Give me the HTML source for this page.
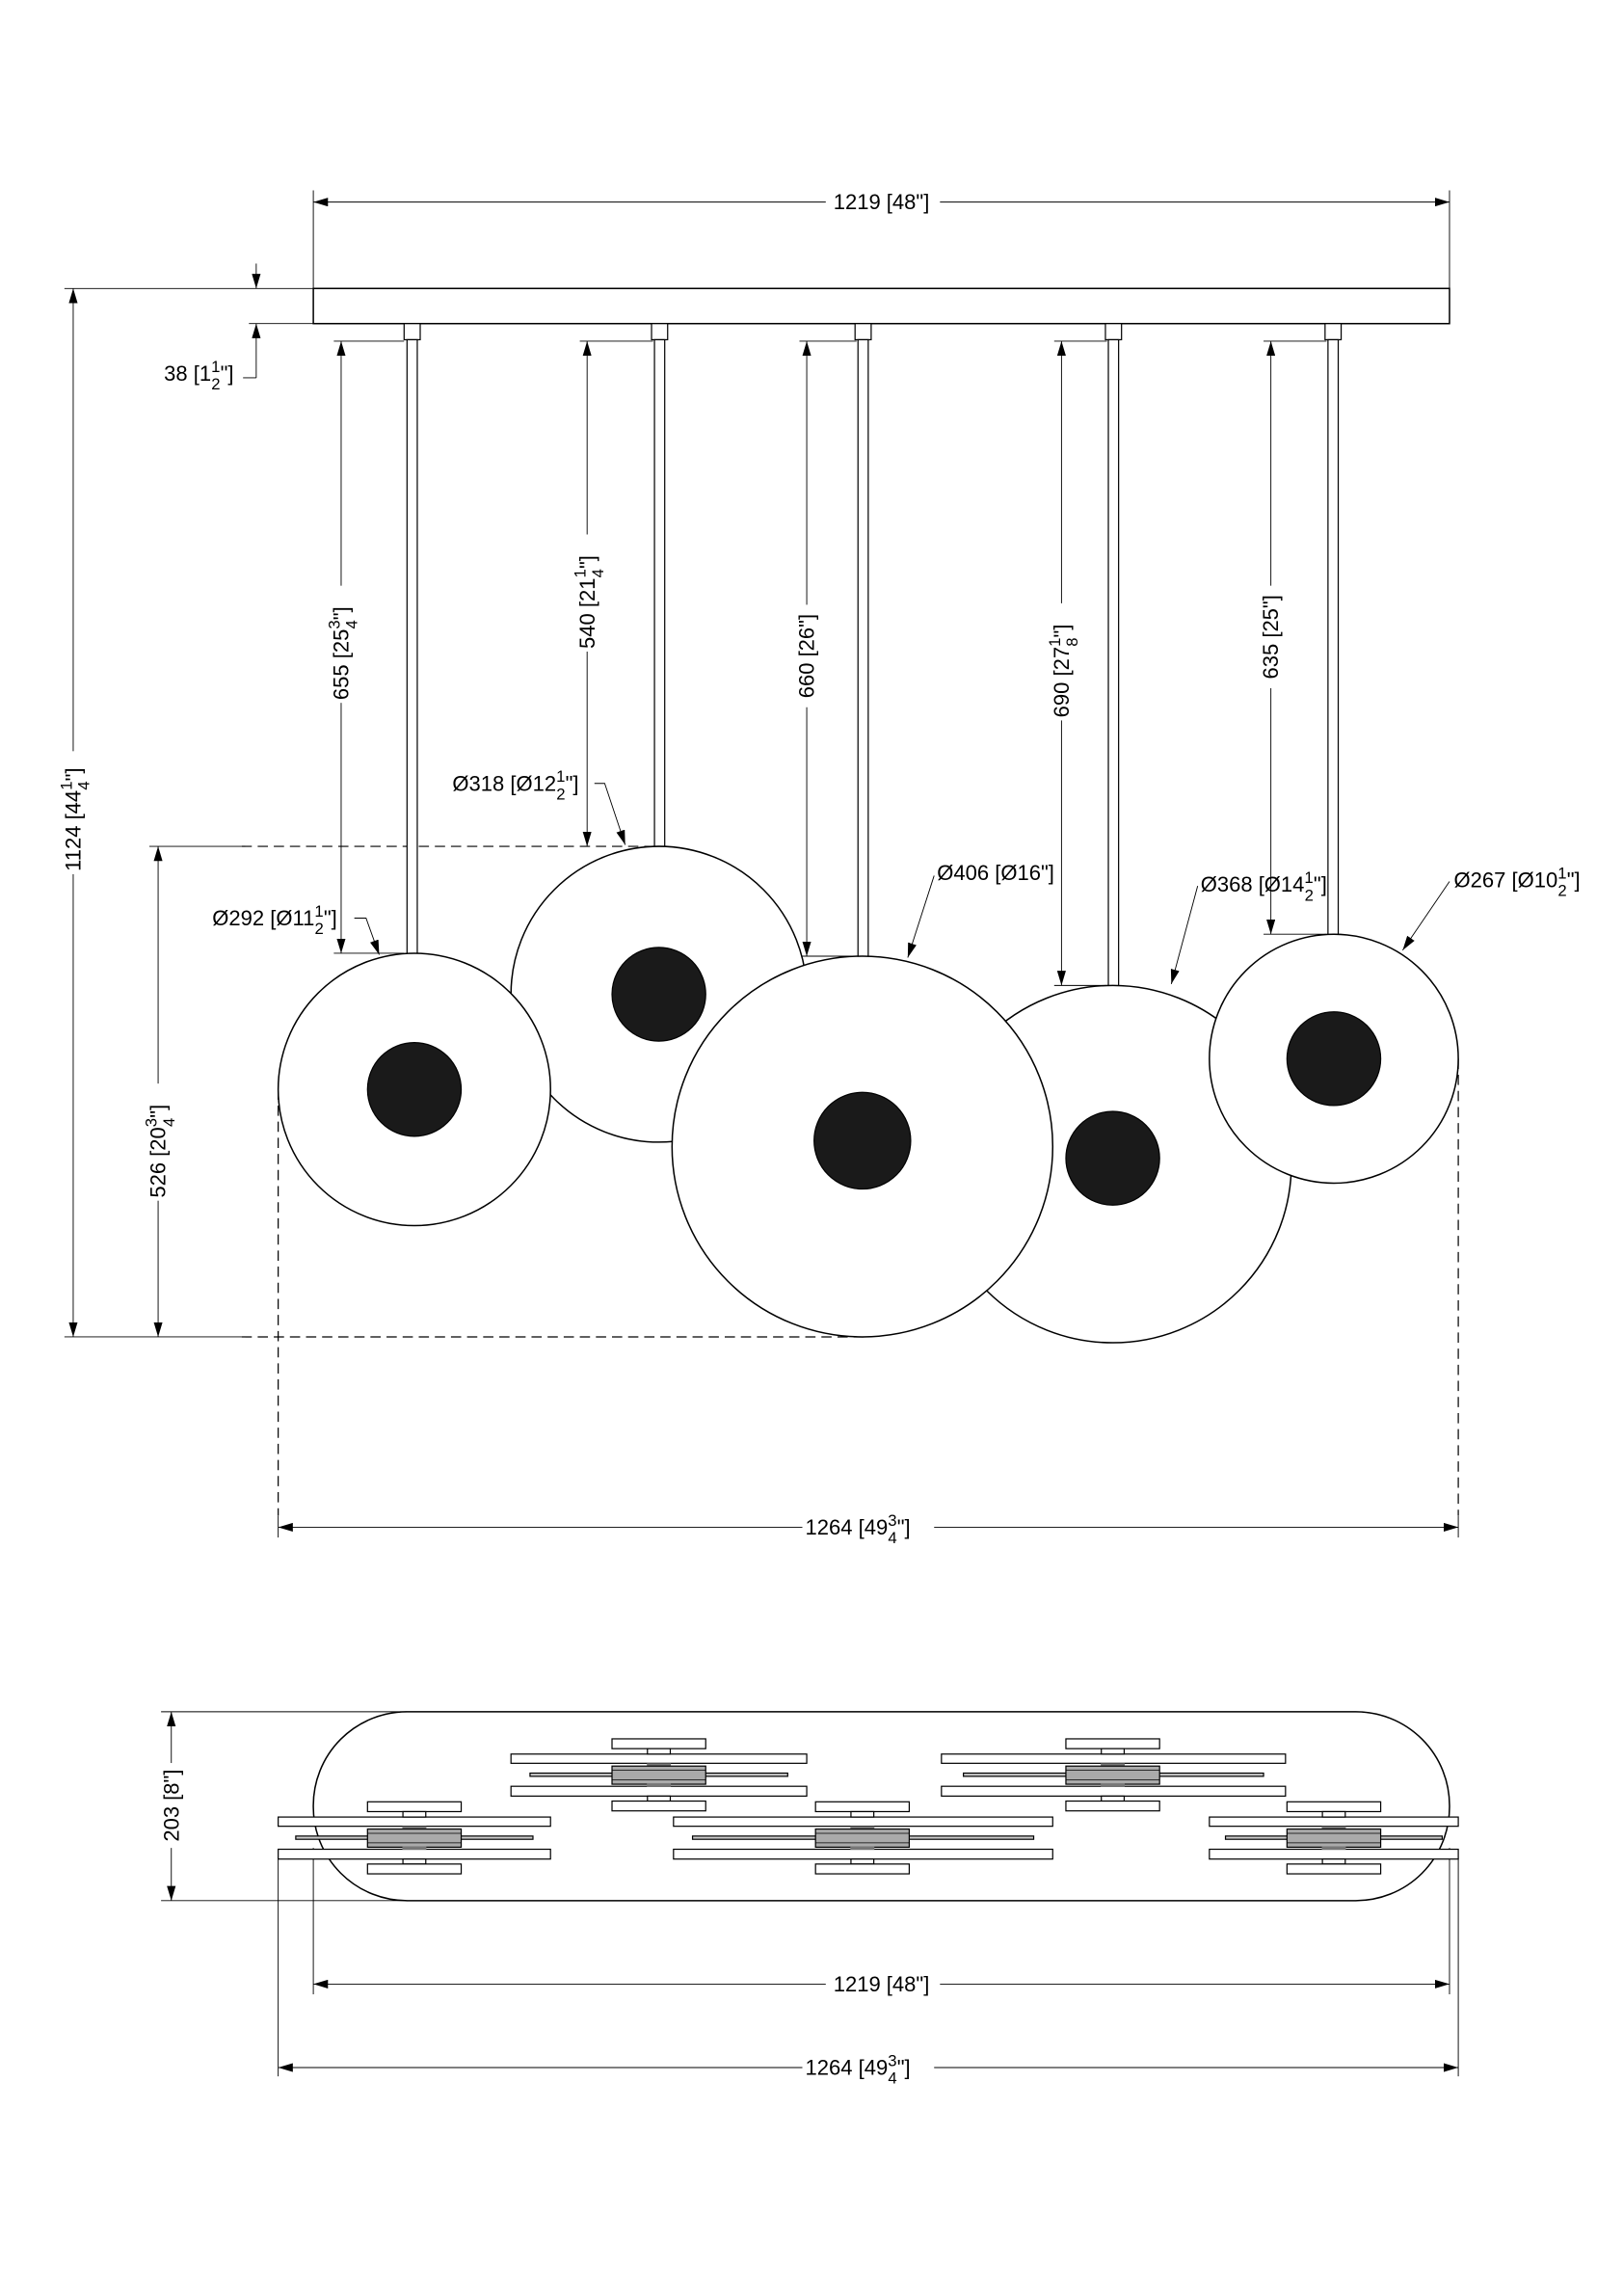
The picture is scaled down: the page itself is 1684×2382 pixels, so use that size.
<!DOCTYPE html>
<html><head><meta charset="utf-8"><style>html,body{margin:0;padding:0;background:#fff}svg{display:block}</style></head>
<body>
<svg width="1684" height="2382" viewBox="0 0 1108.5 1568" preserveAspectRatio="none" xmlns="http://www.w3.org/2000/svg" font-family="Liberation Sans, sans-serif" font-size="14.5">
<defs>
<marker id="a" viewBox="0 0 10 6" refX="10" refY="3" markerWidth="10" markerHeight="6" markerUnits="userSpaceOnUse" orient="auto-start-reverse"><path d="M0,0L10,3L0,6z" fill="#000"/></marker>
<g id="core">
<rect x="-32" y="-24.5" width="64" height="6.7" fill="#fff" stroke="#000" stroke-width="0.8"/>
<rect x="-7.8" y="-17.8" width="15.6" height="3.7" fill="#fff" stroke="#000" stroke-width="0.8"/>
<rect x="-7.8" y="14.6" width="15.6" height="3.4" fill="#fff" stroke="#000" stroke-width="0.8"/>
<rect x="-32" y="18" width="64" height="6.7" fill="#fff" stroke="#000" stroke-width="0.8"/>
</g>
<g id="mid">
<rect x="-8.2" y="-7.8" width="16.4" height="1.9" fill="#777"/>
<rect x="-32" y="-5.9" width="64" height="12.4" fill="#aaa" stroke="#000" stroke-width="0.8"/>
<line x1="-32" y1="-3" x2="32" y2="-3" stroke="#000" stroke-width="0.5"/>
<line x1="-32" y1="3.5" x2="32" y2="3.5" stroke="#000" stroke-width="0.5"/>
<rect x="-8.2" y="5.9" width="16.4" height="2.3" fill="#777"/>
</g>
</defs>
<g stroke="#000" stroke-width="0.6" fill="none">
<line x1="214" y1="130" x2="214" y2="197"/><line x1="990" y1="130" x2="990" y2="197"/>
<line x1="214" y1="138" x2="990" y2="138" marker-start="url(#a)" marker-end="url(#a)"/>
<rect x="214" y="197" width="776" height="24" stroke-width="1"/>
<line x1="44" y1="197" x2="214" y2="197"/>
<line x1="44" y1="913" x2="165" y2="913"/>
<line x1="50" y1="197" x2="50" y2="913" marker-start="url(#a)" marker-end="url(#a)"/>
<line x1="102" y1="578" x2="165" y2="578"/>
<line x1="108" y1="578" x2="108" y2="913" marker-start="url(#a)" marker-end="url(#a)"/>
<g stroke-dasharray="7,4" stroke-width="0.8">
<line x1="165" y1="578" x2="450" y2="578"/>
<line x1="165" y1="913" x2="590" y2="913"/>
<line x1="190" y1="744" x2="190" y2="1035"/>
<line x1="996" y1="723" x2="996" y2="1035"/>
</g>
<line x1="190" y1="1035" x2="190" y2="1050"/><line x1="996" y1="1035" x2="996" y2="1050"/>
<line x1="190" y1="1043" x2="996" y2="1043" marker-start="url(#a)" marker-end="url(#a)"/>
<line x1="170" y1="221" x2="214" y2="221"/>
<line x1="175" y1="180" x2="175" y2="197" marker-end="url(#a)"/>
<line x1="175" y1="258" x2="175" y2="221" marker-end="url(#a)"/>
<line x1="166" y1="258" x2="175" y2="258"/>
<line x1="228" y1="233" x2="276" y2="233"/><line x1="228" y1="651" x2="276" y2="651"/>
<line x1="233" y1="233" x2="233" y2="651" marker-start="url(#a)" marker-end="url(#a)"/>
<line x1="396" y1="233" x2="446" y2="233"/>
<line x1="401" y1="233" x2="401" y2="578" marker-start="url(#a)" marker-end="url(#a)"/>
<line x1="546" y1="233" x2="585" y2="233"/><line x1="546" y1="653" x2="585" y2="653"/>
<line x1="551" y1="233" x2="551" y2="653" marker-start="url(#a)" marker-end="url(#a)"/>
<line x1="720" y1="233" x2="756" y2="233"/><line x1="720" y1="673" x2="756" y2="673"/>
<line x1="725" y1="233" x2="725" y2="673" marker-start="url(#a)" marker-end="url(#a)"/>
<line x1="863" y1="233" x2="906" y2="233"/><line x1="863" y1="638" x2="906" y2="638"/>
<line x1="868" y1="233" x2="868" y2="638" marker-start="url(#a)" marker-end="url(#a)"/>
</g>
<g stroke="#000" stroke-width="0.8" fill="#fff">
<rect x="276" y="221" width="11" height="11"/><rect x="278" y="232" width="7" height="420"/>
<rect x="445" y="221" width="11" height="11"/><rect x="447" y="232" width="7" height="347"/>
<rect x="584" y="221" width="11" height="11"/><rect x="586" y="232" width="7" height="422"/>
<rect x="755" y="221" width="11" height="11"/><rect x="757" y="232" width="7" height="442"/>
<rect x="905" y="221" width="11" height="11"/><rect x="907" y="232" width="7" height="407"/>
</g>
<g stroke="#000" stroke-width="1" fill="#fff">
<circle cx="450" cy="679" r="101"/>
<circle cx="760" cy="795" r="122"/>
<circle cx="283" cy="744" r="93"/>
<circle cx="911" cy="723" r="85"/>
<circle cx="589" cy="783" r="130"/>
</g>
<g fill="#1a1a1a" stroke="#000" stroke-width="0.8">
<circle cx="283" cy="744" r="32"/>
<circle cx="450" cy="679" r="32"/>
<circle cx="589" cy="779" r="33"/>
<circle cx="760" cy="791" r="32"/>
<circle cx="911" cy="723" r="32"/>
</g>
<g stroke="#000" stroke-width="0.6" fill="none">
<polyline points="242,627 250,627 259,652" marker-end="url(#a)"/>
<polyline points="406,535 413,535 427,577" marker-end="url(#a)"/>
<polyline points="638,598 620,654" marker-end="url(#a)"/>
<polyline points="818,605 800,672" marker-end="url(#a)"/>
<polyline points="990,602 958,649" marker-end="url(#a)"/>
</g>
<g fill="#000">
<rect x="564" y="130" width="78" height="16" fill="#fff"/>
<text x="602" y="143" text-anchor="middle">1219 [48"]</text>
<text x="112" y="260">38 [1<tspan font-size="11" dy="-6">1</tspan><tspan font-size="11" dx="-6" dy="12">2</tspan><tspan dy="-6">"]</tspan></text>
<text x="145" y="632">Ø292 [Ø11<tspan font-size="11" dy="-6">1</tspan><tspan font-size="11" dx="-6" dy="12">2</tspan><tspan dy="-6">"]</tspan></text>
<text x="309" y="540">Ø318 [Ø12<tspan font-size="11" dy="-6">1</tspan><tspan font-size="11" dx="-6" dy="12">2</tspan><tspan dy="-6">"]</tspan></text>
<text x="640" y="601">Ø406 [Ø16"]</text>
<text x="820" y="609">Ø368 [Ø14<tspan font-size="11" dy="-6">1</tspan><tspan font-size="11" dx="-6" dy="12">2</tspan><tspan dy="-6">"]</tspan></text>
<text x="993" y="606">Ø267 [Ø10<tspan font-size="11" dy="-6">1</tspan><tspan font-size="11" dx="-6" dy="12">2</tspan><tspan dy="-6">"]</tspan></text>
<g transform="rotate(-90 50 555)"><rect x="8" y="545" width="84" height="20" fill="#fff"/><text x="10" y="560">1124 [44<tspan font-size="11" dy="-6">1</tspan><tspan font-size="11" dx="-6" dy="12">4</tspan><tspan dy="-6">"]</tspan></text></g>
<g transform="rotate(-90 108 780)"><rect x="68" y="770" width="80" height="20" fill="#fff"/><text x="70" y="785">526 [20<tspan font-size="11" dy="-6">3</tspan><tspan font-size="11" dx="-6" dy="12">4</tspan><tspan dy="-6">"]</tspan></text></g>
<g transform="rotate(-90 233 440)"><rect x="193" y="430" width="80" height="20" fill="#fff"/><text x="195" y="445">655 [25<tspan font-size="11" dy="-6">3</tspan><tspan font-size="11" dx="-6" dy="12">4</tspan><tspan dy="-6">"]</tspan></text></g>
<g transform="rotate(-90 401 405)"><rect x="361" y="395" width="80" height="20" fill="#fff"/><text x="363" y="410">540 [21<tspan font-size="11" dy="-6">1</tspan><tspan font-size="11" dx="-6" dy="12">4</tspan><tspan dy="-6">"]</tspan></text></g>
<g transform="rotate(-90 551 448)"><rect x="516" y="438" width="70" height="20" fill="#fff"/><text x="551" y="453" text-anchor="middle">660 [26"]</text></g>
<g transform="rotate(-90 725 452)"><rect x="685" y="442" width="80" height="20" fill="#fff"/><text x="687" y="457">690 [27<tspan font-size="11" dy="-6">1</tspan><tspan font-size="11" dx="-6" dy="12">8</tspan><tspan dy="-6">"]</tspan></text></g>
<g transform="rotate(-90 868 435)"><rect x="833" y="425" width="70" height="20" fill="#fff"/><text x="868" y="440" text-anchor="middle">635 [25"]</text></g>
</g>
<g stroke="#000" stroke-width="0.6" fill="none">
<line x1="110" y1="1169" x2="278" y2="1169"/><line x1="110" y1="1298" x2="278" y2="1298"/>
<line x1="117" y1="1169" x2="117" y2="1298" marker-start="url(#a)" marker-end="url(#a)"/>
<line x1="214" y1="1262" x2="214" y2="1362"/><line x1="990" y1="1262" x2="990" y2="1362"/>
<line x1="214" y1="1355" x2="990" y2="1355" marker-start="url(#a)" marker-end="url(#a)"/>
<line x1="190" y1="1268" x2="190" y2="1418"/><line x1="996" y1="1268" x2="996" y2="1418"/>
<line x1="190" y1="1412" x2="996" y2="1412" marker-start="url(#a)" marker-end="url(#a)"/>
<rect x="214" y="1169" width="776" height="129" rx="64" ry="64" stroke-width="1"/>
</g>
<g stroke="#000" stroke-width="0.8" fill="#fff">
<rect x="349" y="1197.9" width="202" height="6.3"/><rect x="349" y="1219.9" width="202" height="6.7"/><rect x="362" y="1210.9" width="176" height="2.2" fill="#ccc"/>
<rect x="643" y="1197.9" width="235" height="6.3"/><rect x="643" y="1219.9" width="235" height="6.7"/><rect x="658" y="1210.9" width="205" height="2.2" fill="#ccc"/>
<rect x="190" y="1240.9" width="186" height="6.3"/><rect x="190" y="1262.9" width="186" height="6.7"/><rect x="202" y="1253.9" width="162" height="2.2" fill="#ccc"/>
<rect x="460" y="1240.9" width="259" height="6.3"/><rect x="460" y="1262.9" width="259" height="6.7"/><rect x="473" y="1253.9" width="233" height="2.2" fill="#ccc"/>
<rect x="826" y="1240.9" width="170" height="6.3"/><rect x="826" y="1262.9" width="170" height="6.7"/><rect x="837" y="1253.9" width="148" height="2.2" fill="#ccc"/>
</g>
<use href="#core" x="450" y="1212"/><use href="#mid" x="450" y="1212"/>
<use href="#core" x="760" y="1212"/><use href="#mid" x="760" y="1212"/>
<use href="#core" x="283" y="1255"/><use href="#mid" x="283" y="1255"/>
<use href="#core" x="589" y="1255"/><use href="#mid" x="589" y="1255"/>
<use href="#core" x="911" y="1255"/><use href="#mid" x="911" y="1255"/>
<g fill="#000">
<g transform="rotate(-90 117 1233)"><rect x="88" y="1223" width="58" height="20" fill="#fff"/><text x="117" y="1238" text-anchor="middle">203 [8"]</text></g>
<rect x="564" y="1347" width="78" height="16" fill="#fff"/>
<text x="602" y="1360" text-anchor="middle">1219 [48"]</text>
<rect x="548" y="1402" width="90" height="20" fill="#fff"/>
<text x="550" y="1417">1264 [49<tspan font-size="11" dy="-6">3</tspan><tspan font-size="11" dx="-6" dy="12">4</tspan><tspan dy="-6">"]</tspan></text>
<rect x="548" y="1033" width="90" height="20" fill="#fff"/>
<text x="550" y="1048">1264 [49<tspan font-size="11" dy="-6">3</tspan><tspan font-size="11" dx="-6" dy="12">4</tspan><tspan dy="-6">"]</tspan></text>
</g>
</svg>
</body></html>
